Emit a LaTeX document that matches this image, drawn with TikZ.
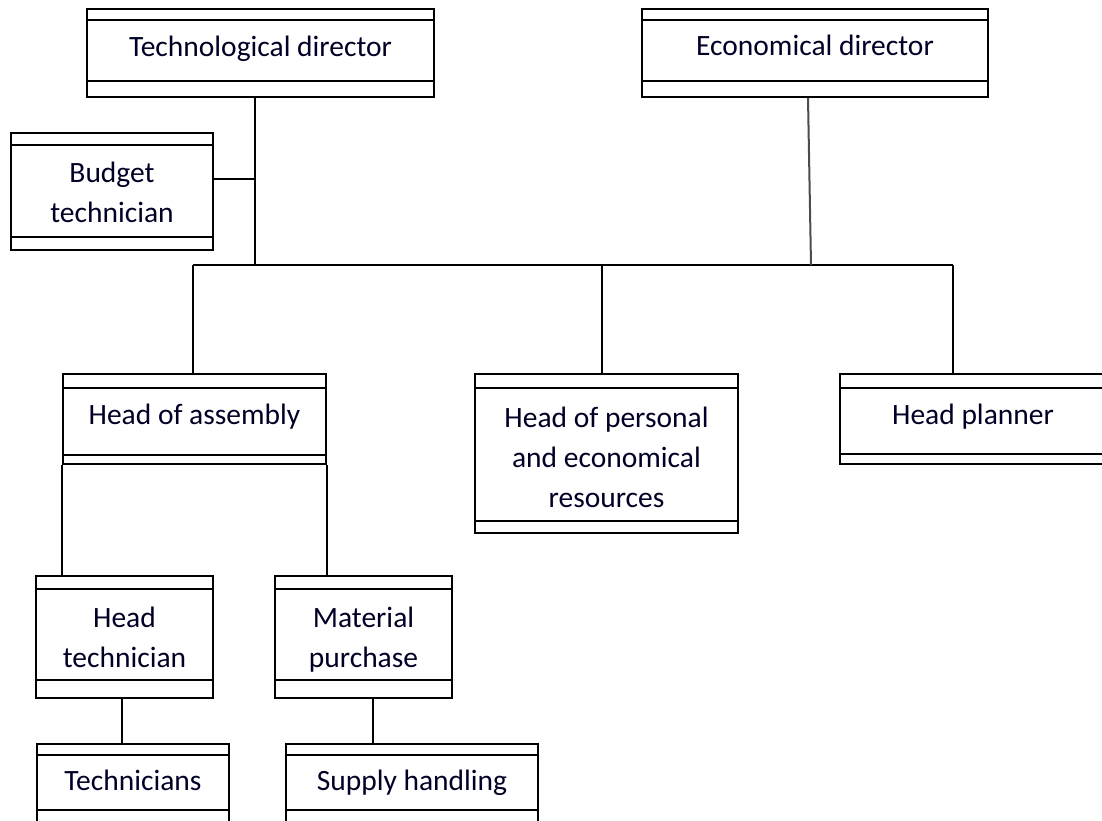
\documentclass[tikz,border=0pt]{standalone}
\usepackage{fontspec}
\setmainfont{Carlito}
\begin{document}
\begin{tikzpicture}[x=1pt,y=-1pt,
  obox/.style={draw=black, line width=2pt, rectangle, inner sep=0pt, fill=white},
  strip/.style={draw=black, line width=2pt},
  otext/.style={align=center, inner sep=0pt, anchor=base, font=\fontsize{29.5}{40}\selectfont, text=black!85!blue},
  conn/.style={draw=black, line width=2pt},
  conng/.style={draw=black!70, line width=2pt}]
\newcommand\orgbox[9]{%
  \node[obox, minimum width={#4-#2}, minimum height={#5-#3}] (#1) at ({(#2+#4)/2},{(#3+#5)/2}) {};
  \draw[strip] (#1.west |- 0,#6) -- (#1.east |- 0,#6);
  \draw[strip] (#1.west |- 0,#7) -- (#1.east |- 0,#7);
  \node[otext] (#1-t) at ({(#2+#4)/2},#8) {#9};
}
\useasboundingbox (0,0) rectangle (1102,820);
\clip (0,0) rectangle (1102,820);
\fill[white] (0,0) rectangle (1102,820);
% junction coordinates
\coordinate (jT) at (255,265);
\coordinate (jB) at (255,179);
\coordinate (jE) at (811,265);
\coordinate (bL) at (193,265);
\coordinate (bM) at (602,265);
\coordinate (bR) at (953,265);
\coordinate (jH) at (122,720);
\coordinate (jM) at (373,720);
\draw[conn] (bL) -- (bR);
\orgbox{td}{87}{9}{434}{97}{19.5}{81}{56}{Technological director}
\orgbox{ed}{642}{9}{988}{97}{19.5}{81}{55}{Economical director}
\orgbox{bt}{11}{133}{213}{250}{145}{237}{222.5}{Budget\\technician}
\orgbox{hoa}{63}{374}{326}{464}{388}{455}{424}{Head of assembly}
\orgbox{hop}{475}{374}{738}{533}{388}{521}{507}{Head of personal\\and economical\\resources}
\orgbox{hp}{840}{374}{1106}{464}{388}{454}{424}{Head planner}
\orgbox{ht}{36}{576}{213}{698}{589}{680}{667}{Head\\technician}
\orgbox{mp}{275}{576}{452}{698}{589}{680}{667}{Material\\purchase}
\orgbox{tec}{37}{744}{229}{840}{755}{810}{790}{Technicians}
\orgbox{sh}{286}{744}{538}{840}{755}{810}{790}{Supply handling}
\draw[conn] (td.south -| jT) -- (jT);
\draw[conn] (bt.east |- jB) -- (jB);
\draw[conng] (ed.south -| 808,0) -- (jE);
\draw[conn] (bL) -- (hoa.north -| bL);
\draw[conn] (bM) -- (hop.north -| bM);
\draw[conn] (bR) -- (hp.north -| bR);
\draw[conn] (hoa.south west) -- (ht.north -| hoa.south west);
\draw[conn] (hoa.south east) -- (mp.north -| hoa.south east);
\draw[conn] (ht.south -| jH) -- (tec.north -| jH);
\draw[conn] (mp.south -| jM) -- (sh.north -| jM);
\end{tikzpicture}
\end{document}
